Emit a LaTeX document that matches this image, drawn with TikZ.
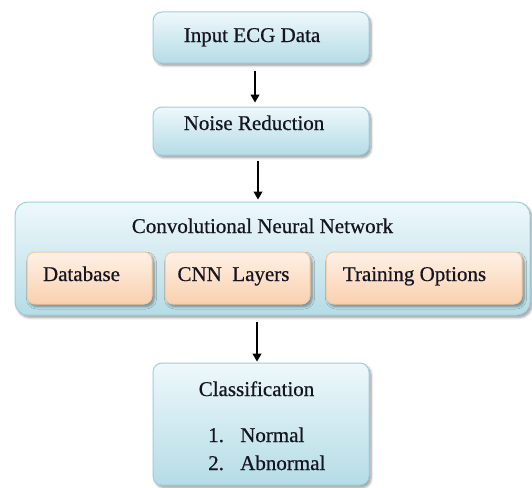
\documentclass[tikz,border=0pt]{standalone}
\usepackage{fontspec}
\setmainfont{Liberation Serif}[BoldFont=Liberation Serif, BoldFeatures={FakeBold=0.6}]
\usetikzlibrary{arrows.meta,shadows.blur}

\definecolor{blueTop}{HTML}{EEF8FB}
\definecolor{blueBot}{HTML}{B5DCE6}
\definecolor{blueLine}{HTML}{9DD0DD}
\definecolor{orangeTop}{HTML}{FEF1E7}
\definecolor{orangeBot}{HTML}{FAD0AE}
\definecolor{orangeLine}{HTML}{F3C7A2}
\definecolor{inkText}{HTML}{151520}

\tikzset{
  boxshadow/.style={blur shadow={shadow xshift=2pt, shadow yshift=-2.5pt,
      shadow blur radius=2.5pt, shadow blur steps=6, shadow opacity=40}},
  bluebox/.style={draw=blueLine, line width=1pt, rounded corners=9pt,
      top color=blueTop, bottom color=blueBot, inner sep=0pt, boxshadow},
  orangebox/.style={draw=orangeLine, line width=1pt, rounded corners=8pt,
      top color=orangeTop, bottom color=orangeBot, inner sep=0pt, boxshadow},
  lbl/.style={inner sep=0pt, anchor=base, text=inkText,
      font=\fontsize{21}{25}\selectfont\bfseries},
  lbll/.style={lbl, anchor=base west},
  flow/.style={draw=black, line width=1.1pt,
      -{Triangle[length=8pt,width=9pt]}}
}

\begin{document}
\begin{tikzpicture}[x=1pt,y=-1pt]
  \useasboundingbox (0,0) rectangle (532,487);

  % pipeline boxes
  \node[bluebox, minimum width=216pt, minimum height=51pt] (in) at (261,37.5) {};
  \node[lbl] (inT) at (252,42) {Input ECG Data};

  \node[bluebox, minimum width=216pt, minimum height=48pt] (noise) at (261,131) {};
  \node[lbl] (noiseT) at (254,130) {Noise Reduction};

  \node[bluebox, rounded corners=13pt, minimum width=515pt, minimum height=113pt] (cnn) at (272.5,258.5) {};
  \node[lbl] (cnnT) at (262.5,233) {Convolutional Neural Network};

  % components of the network
  \node[orangebox, minimum width=125pt, minimum height=52pt] (db) at (89.5,278) {};
  \node[lbl] (dbT) at (81.5,281) {Database};

  \node[orangebox, minimum width=145pt, minimum height=52pt] (layers) at (237.5,278) {};
  \node[lbl] (layersT) at (233.5,281) {CNN\ \ Layers};

  \node[orangebox, minimum width=196pt, minimum height=52pt] (train) at (424,278) {};
  \node[lbl] (trainT) at (414.5,281) {Training Options};

  % output box
  \node[bluebox, minimum width=216pt, minimum height=122pt] (cls) at (261,424) {};
  \node[lbl] (clsT) at (256.5,396) {Classification};
  \node[lbll] (n1) at (208,442) {1.};
  \node[lbll] (n1T) at (240,442) {Normal};
  \node[lbll] (n2) at (208,470) {2.};
  \node[lbll] (n2T) at (240,470) {Abnormal};

  % connectors
  \draw[flow, shorten <=7pt, shorten >=4pt] ([xshift=-6pt]in.south) -- ([xshift=-6pt]noise.north);
  \draw[flow, shorten <=5pt, shorten >=2pt] ([xshift=-3pt]noise.south) -- ([xshift=-3pt]noise.south |- cnn.north);
  \draw[flow, shorten <=6pt, shorten >=1pt] ([xshift=-4pt]cls.north |- cnn.south) -- ([xshift=-4pt]cls.north);
\end{tikzpicture}
\end{document}
